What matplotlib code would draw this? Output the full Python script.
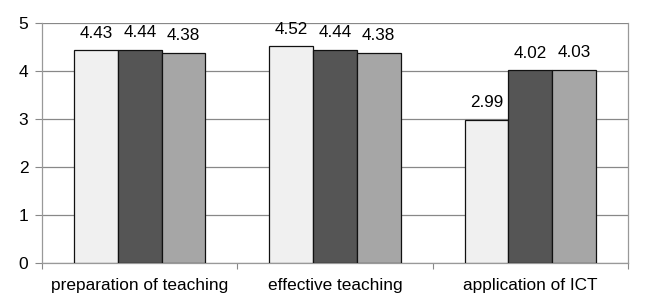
import matplotlib.pyplot as plt
import numpy as np

categories = ["preparation of teaching", "effective teaching", "application of ICT"]
series_a = [4.43, 4.52, 2.99]
series_b = [4.44, 4.44, 4.02]
series_c = [4.38, 4.38, 4.03]
colors = ["#f0f0f0", "#555555", "#a6a6a6"]

plt.rcParams['font.family'] = ['Liberation Sans', 'DejaVu Sans']

fig = plt.figure(figsize=(6.7, 3.04), dpi=100)
ax = fig.add_axes([0.063, 0.135, 0.874, 0.789])

x = np.arange(len(categories))
w = 0.224
for i, vals in enumerate([series_a, series_b, series_c]):
    bars = ax.bar(x + (i - 1) * w, vals, w, color=colors[i], edgecolor="#111111", linewidth=0.9, zorder=3)
    for b, v in zip(bars, vals):
        ax.annotate(f"{v:.2f}", (b.get_x() + b.get_width() / 2, v), xytext=(0, 9),
                    textcoords="offset points", ha="center", va="baseline", fontsize=12.3, zorder=4)

ax.set_xlim(-0.5, 2.5)
ax.set_ylim(0, 5)
ax.set_yticks(range(6))
ax.yaxis.grid(True, color="#888888", linewidth=0.9, zorder=0)
ax.set_xticks([-0.5, 0.5, 1.5, 2.5])
ax.set_xticklabels([])
ax.set_xticks(x, minor=True)
ax.set_xticklabels(categories, minor=True)
ax.tick_params(axis="x", which="minor", length=0, labelsize=12.4, pad=11)
ax.tick_params(axis="x", which="major", length=4, color="#888888")
ax.tick_params(axis="y", length=5, color="#888888", labelsize=12.5, pad=5)
for s in ["left", "bottom", "right", "top"]:
    ax.spines[s].set_color("#999999")
    ax.spines[s].set_linewidth(0.9)
ax.spines["top"].set_visible(False)

fig.savefig("out.png", dpi=100)
